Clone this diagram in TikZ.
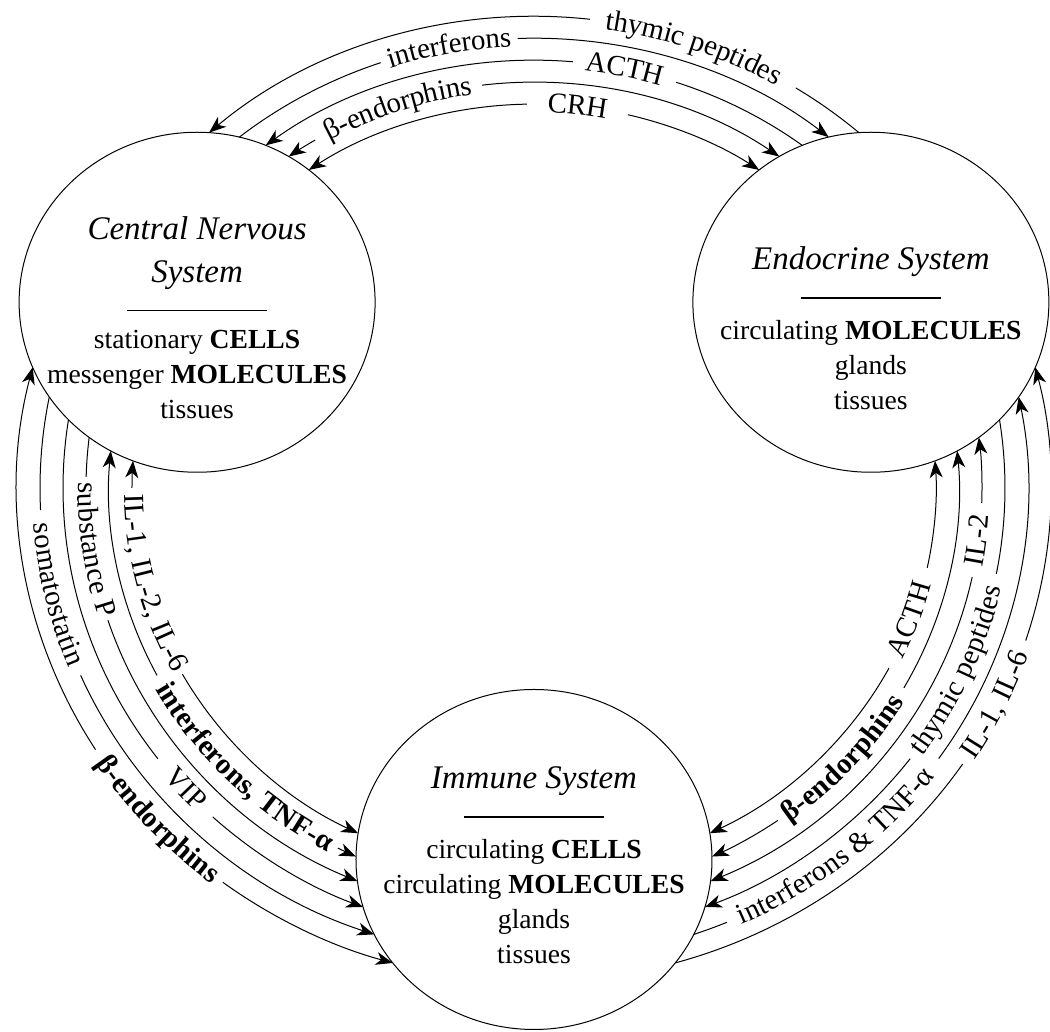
\documentclass[tikz,border=0pt]{standalone}
\usepackage{fontspec}
\setmainfont{Liberation Serif}
\usetikzlibrary{shapes.geometric,decorations.text,arrows.meta}

\newcommand{\arcfont}{\fontsize{14.5}{16}\selectfont}
\newcommand{\titlefont}{\fontsize{16.5}{20}\selectfont\itshape}
\newcommand{\bodyfont}{\fontsize{13.8}{17.5}\selectfont}
%signal arc round the middle: radius, from system, to system, gap begin, gap end, start tip, end tip, weight, label
\newcommand{\signalarc}[9]{%
  \pgfmathsetmacro\arcsgn{sign(#3-#2)}%
  \pgfmathsetmacro\arccut{acos(((#1/100)^2+3.89^2-1.78^2)/(2*(#1/100)*3.89))}%
  \pgfmathsetmacro\arcbeg{#2+\arcsgn*\arccut}%
  \pgfmathsetmacro\arcend{#3-\arcsgn*\arccut}%
  \pgfmathsetmacro\txtbeg{#4-\arcsgn*15}%
  \pgfmathsetmacro\txtend{#5+\arcsgn*15}%
  \draw[#6-] (\arcbeg:#1) arc[start angle=\arcbeg, end angle=#4, radius=#1];
  \draw[-#7] (#5:#1) arc[start angle=#5, end angle=\arcend, radius=#1];
  \path[decorate, decoration={text along path, text align=center, raise=-4pt,
    text={|\arcfont#8|#9}}] (\txtbeg:#1) arc[start angle=\txtbeg, end angle=\txtend, radius=#1];
}

\begin{document}
\begin{tikzpicture}[x=0.5pt,y=0.4775pt,line width=0.5pt,
    >={Stealth[length=8.5pt,width=6.5pt,inset=2.5pt]},
    sysring/.style={ellipse,draw,minimum width=178pt,minimum height=170pt,inner sep=0pt},
    systext/.style={align=center,font=\bodyfont,inner sep=0pt}]
    \path[use as bounding box,fill=white] (-534,-569.6) rectangle (516,511);
    %the three systems
    \node[sysring] (cns) at (150:389) {};
    \node[sysring] (endo) at (30:389) {};
    \node[sysring] (immune) at (270:389) {};
    \node[systext] (cnstext) at ([yshift=-7.5pt]cns.center)
        {{\titlefont Central Nervous}\\[4pt]{\titlefont System}\\ \rule[3pt]{70pt}{0.7pt}\\[-2pt]
         stationary \textbf{CELLS}\\ messenger \textbf{MOLECULES}\\ tissues};
    \node[systext] (endotext) at ([yshift=-13pt]endo.center)
        {{\titlefont Endocrine System}\\ \rule[3pt]{70pt}{0.7pt}\\
         circulating \textbf{MOLECULES}\\ glands\\ tissues};
    \node[systext] (immunetext) at ([yshift=-3pt]immune.center)
        {{\titlefont Immune System}\\ \rule[3pt]{70pt}{0.7pt}\\
         circulating \textbf{CELLS}\\ circulating \textbf{MOLECULES}\\ glands\\ tissues};
    %CNS and endocrine
    \signalarc{494}{150}{30}{83.5}{58}{<}{}{}{thymic peptides}
    \signalarc{471}{150}{30}{109}{92}{}{>}{}{interferons}
    \signalarc{448}{150}{30}{85}{71.5}{<}{}{}{ACTH}
    \signalarc{425}{150}{30}{121}{97}{<}{>}{}{β-endorphins}
    \signalarc{402}{150}{30}{91}{76.5}{<}{>}{}{CRH}
    %CNS and immune
    \signalarc{402}{150}{270}{180}{209}{<}{>}{}{IL-1, IL-2, IL-6}
    \signalarc{425}{150}{270}{207.5}{242.5}{<}{>}{\bfseries}{interferons, TNF-α}
    \signalarc{448}{150}{270}{178.5}{198}{}{>}{}{substance P}
    \signalarc{471}{150}{270}{217}{227}{}{>}{}{VIP}
    \signalarc{494}{150}{270}{182.7}{203.4}{}{>}{}{somatostatin}
    \signalarc{517}{150}{270}{212}{233}{<}{>}{\bfseries}{β-endorphins}
    %immune and endocrine
    \signalarc{402}{-90}{30}{-28}{-12}{<}{>}{}{ACTH}
    \signalarc{425}{-90}{30}{-55}{-29.5}{<}{>}{\bfseries}{β-endorphins}
    \signalarc{448}{-90}{30}{-12}{-2}{<}{>}{}{IL-2}
    \signalarc{471}{-90}{30}{-37}{-11}{<}{}{}{thymic peptides}
    \signalarc{494}{-90}{30}{-67}{-35}{}{>}{}{interferons {\&} TNF-α}
    \signalarc{517}{-90}{30}{-34}{-18}{}{>}{}{IL-1, IL-6}
\end{tikzpicture}
\end{document}
